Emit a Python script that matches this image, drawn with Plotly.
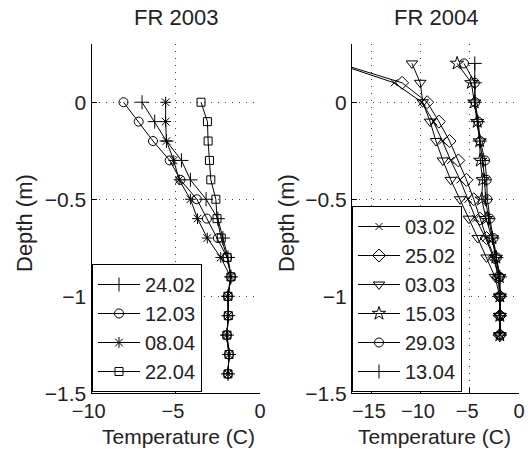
import plotly.graph_objects as go

# ---------------- data ----------------
depth_2003 = [0.0, -0.1, -0.2, -0.3, -0.4, -0.5, -0.6, -0.7, -0.8, -0.9, -1.0, -1.1, -1.2, -1.3, -1.4]
t_2402 = [-7.0, -6.25, -5.55, -4.66, -4.13, -3.2, -2.5, -2.2, -1.9, -1.72, -1.9, -1.88, -1.96, -1.84, -1.9]
t_1203 = [-8.1, -7.2, -6.35, -5.36, -4.72, -3.75, -3.15, -2.5, -1.95, -1.72, -1.9, -1.88, -1.96, -1.84, -1.9]
t_0804 = [-5.6, -5.6, -5.55, -5.12, -4.8, -4.13, -3.71, -3.13, -2.33, -1.75, -1.92, -1.88, -1.98, -1.84, -1.9]
t_2204 = [-3.5, -3.12, -3.08, -3.0, -2.92, -2.62, -2.55, -2.3, -1.95, -1.72, -1.9, -1.88, -1.96, -1.84, -1.9]

depth_2004 = [0.2, 0.1, 0.0, -0.1, -0.2, -0.3, -0.4, -0.5, -0.6, -0.7, -0.8, -0.9, -1.0, -1.1, -1.2]
t_0302 = [-18.6, -12.7, -9.9, -8.7, -7.8, -6.95, -6.0, -5.2, -4.4, -3.4, -2.6, -2.1, -1.95, -1.95, -1.95]
t_2502 = [-18.3, -11.9, -9.35, -8.15, -7.07, -6.17, -5.35, -4.6, -3.97, -3.3, -2.5, -2.1, -1.95, -1.95, -1.95]
t_0303 = [-10.9, -10.05, -9.8, -9.05, -8.45, -7.75, -6.95, -6.0, -5.1, -4.2, -3.3, -2.45, -1.95, -1.95, -1.95]
t_1503 = [-6.3, -4.85, -4.55, -4.25, -4.0, -3.95, -3.7, -3.8, -3.35, -2.75, -2.35, -2.0, -1.95, -1.95, -1.95]
t_2903 = [-5.6, -4.5, -4.45, -4.15, -3.95, -3.46, -3.29, -3.22, -2.96, -2.6, -2.25, -1.95, -1.92, -1.92, -1.92]
t_1304 = [-4.5, -4.5, -4.5, -4.2, -4.0, -3.7, -3.5, -3.4, -3.1, -2.7, -2.3, -1.95, -1.95, -1.95, -1.95]

names_2003 = ["24.02", "12.03", "08.04", "22.04"]
names_2004 = ["03.02", "25.02", "03.03", "15.03", "29.03", "13.04"]

x1_ticks = [-10, -5, 0]
x1_text = ["\u221210\u00a0", "\u22125\u00a0", "0"]
x2_ticks = [-15, -10, -5, 0]
x2_text = ["\u221215\u00a0", "\u221210\u00a0", "\u22125\u00a0", "0"]
y_ticks = [0, -0.5, -1, -1.5]
y_text = ["0", "\u22120.5", "\u22121", "\u22121.5"]

# ---------------- figure ----------------
W, H = 528, 449
FONT = "Liberation Sans, Arial, Helvetica, sans-serif"
TXT = "#222222"
FS = 22      # titles
TFS = 20     # x tick labels
YFS = 21     # y tick labels
AFS = 21     # x axis labels
LFS = 20     # legend

fig = go.Figure()

def add(x, y, name, symbol, size, xa, ya, legend):
    fig.add_trace(go.Scatter(
        x=x, y=y, name=name, mode="lines+markers",
        xaxis=xa, yaxis=ya, legend=legend,
        line=dict(color="black", width=1),
        marker=dict(symbol=symbol, size=size, color="black",
                    line=dict(color="black", width=1)),
    ))

add(t_2402, depth_2003, names_2003[0], "cross-thin-open", 10, "x", "y", "legend")
add(t_1203, depth_2003, names_2003[1], "circle-open", 9, "x", "y", "legend")
add(t_0804, depth_2003, names_2003[2], "asterisk-open", 9, "x", "y", "legend")
add(t_2204, depth_2003, names_2003[3], "square-open", 8, "x", "y", "legend")

add(t_0302, depth_2004, names_2004[0], "x-thin-open", 7, "x2", "y2", "legend2")
add(t_2502, depth_2004, names_2004[1], "diamond-open", 10, "x2", "y2", "legend2")
add(t_0303, depth_2004, names_2004[2], "triangle-down-open", 10, "x2", "y2", "legend2")
add(t_1503, depth_2004, names_2004[3], "star-open", 10, "x2", "y2", "legend2")
add(t_2903, depth_2004, names_2004[4], "circle-open", 9, "x2", "y2", "legend2")
add(t_1304, depth_2004, names_2004[5], "cross-thin-open", 10, "x2", "y2", "legend2")

def px_x(v):
    return v / W

def px_y(v):
    return (H - v) / H

axis_common = dict(
    showline=True, linecolor="black", linewidth=1, mirror=False,
    ticks="inside", ticklen=5, tickcolor="black", tickwidth=1,
    showgrid=True, gridcolor="#444444", gridwidth=1, griddash="1px,6px",
    zeroline=False, automargin=False, tickangle=0,
)
xfont = dict(family=FONT, size=TFS, color=TXT)
yfont = dict(family=FONT, size=YFS, color=TXT)

ydom = [px_y(393.3), px_y(44.0)]

legend_common = dict(
    xanchor="left", yanchor="bottom",
    bgcolor="white", bordercolor="black", borderwidth=1,
    font=dict(family=FONT, size=LFS, color=TXT), itemwidth=42,
    tracegroupgap=0,
)

fig.update_layout(
    template="none",
    width=W, height=H,
    margin=dict(l=0, r=0, t=0, b=0),
    paper_bgcolor="white", plot_bgcolor="white",
    font=dict(family=FONT, size=FS, color=TXT),
    xaxis=dict(domain=[px_x(91.5), px_x(260)], range=[-10, 0], anchor="y",
               tickvals=x1_ticks, ticktext=x1_text, ticklabelstandoff=0,
               tickfont=xfont, **axis_common),
    yaxis=dict(domain=ydom, range=[-1.5, 0.3], anchor="x",
               tickvals=y_ticks, ticktext=y_text, tickfont=yfont, **axis_common),
    xaxis2=dict(domain=[px_x(352), px_x(519)], range=[-17, 0], anchor="y2",
                tickvals=x2_ticks, ticktext=x2_text, ticklabelstandoff=0,
                tickfont=xfont, **axis_common),
    yaxis2=dict(domain=ydom, range=[-1.5, 0.3], anchor="x2",
                tickvals=y_ticks, ticktext=y_text, tickfont=yfont, **axis_common),
    legend=dict(x=px_x(92), y=px_y(392), **legend_common),
    legend2=dict(x=px_x(352), y=px_y(392), **legend_common),
    showlegend=True,
)

ann = dict(xref="paper", yref="paper", showarrow=False, borderpad=0)
tfont = dict(family=FONT, size=FS, color=TXT)
afont = dict(family=FONT, size=AFS, color=TXT)
fig.add_annotation(text="FR 2003", x=px_x(176), y=px_y(18), xanchor="center", yanchor="middle", font=tfont, **ann)
fig.add_annotation(text="FR 2004", x=px_x(435.5), y=px_y(18), xanchor="center", yanchor="middle", font=tfont, **ann)
fig.add_annotation(text="Temperature (C)", x=px_x(178), y=px_y(436), xanchor="center", yanchor="middle", font=afont, **ann)
fig.add_annotation(text="Temperature (C)", x=px_x(434), y=px_y(436), xanchor="center", yanchor="middle", font=afont, **ann)
fig.add_annotation(text="Depth (m)", x=px_x(25), y=px_y(223), xanchor="center", yanchor="middle", textangle=-90, font=tfont, **ann)
fig.add_annotation(text="Depth (m)", x=px_x(287), y=px_y(223), xanchor="center", yanchor="middle", textangle=-90, font=tfont, **ann)

fig.write_html("out.html")
